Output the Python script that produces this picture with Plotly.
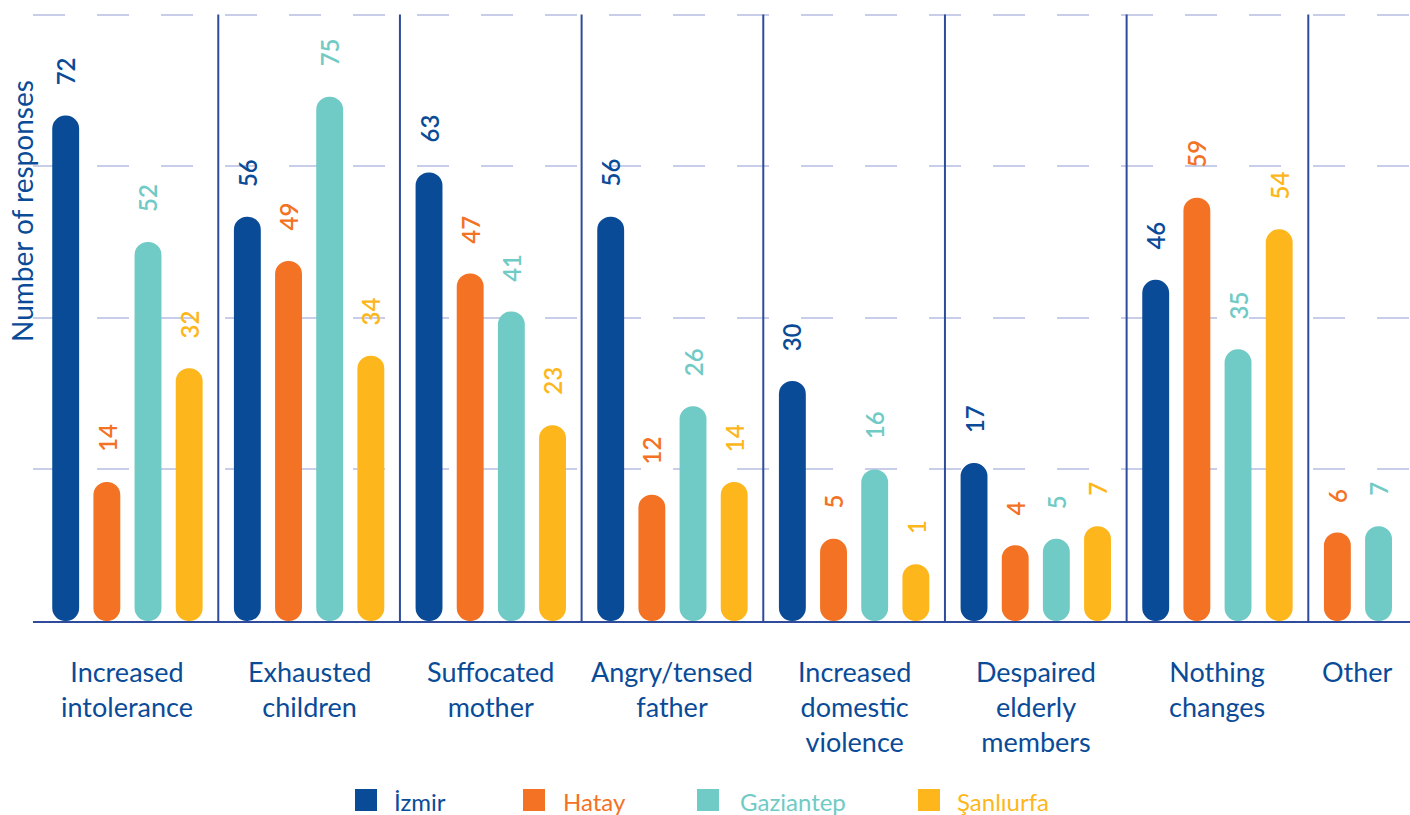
import plotly.graph_objects as go

# ---- data -------------------------------------------------------------
categories = [
    "Increased<br>intolerance",
    "Exhausted<br>children",
    "Suffocated<br>mother",
    "Angry/tensed<br>father",
    "Increased<br>domestic<br>violence",
    "Despaired<br>elderly<br>members",
    "Nothing<br>changes",
    "Other",
]
izmir = [72, 56, 63, 56, 30, 17, 46, None]
hatay = [14, 49, 47, 12, 5, 4, 59, 6]
gaziantep = [52, 75, 41, 26, 16, 5, 35, 7]
sanliurfa = [32, 34, 23, 14, 1, 7, 54, None]
series_names = ["İzmir", "Hatay", "Gaziantep", "Şanlıurfa"]
series_values = [izmir, hatay, gaziantep, sanliurfa]
series_colors = ["#0a4b98", "#f37224", "#70cac5", "#fdb71c"]

# ---- style ------------------------------------------------------------
FONT = "Lato"
TEXT_BLUE = "#0a4b98"
RULE_BLUE = "#2e4b9c"
GRID = "#c8cdea"
Y_FLOOR = -8          # pills start at the axis floor
Y_TOP = 90.3
GRID_VALS = [16, 40, 64, 88]
SLOT_STEP = 0.2266    # distance between bar slots (category units)
BAR_W = 0.148         # bar width (category units)
CAT_PX = 181.67       # pixel width of one category band
FIRST_BAND_PX = 36.6  # left edge of the first category band

W, H = 1410, 815
M_L, M_R, M_T, M_B = 33, 0, 0, 194
PLOT_W = W - M_L - M_R
PLOT_H = H - M_T - M_B
X_LEFT = -0.5 - (FIRST_BAND_PX - M_L) / CAT_PX
X_RIGHT = X_LEFT + PLOT_W / CAT_PX


def px_x(px):
    return (px - M_L) / PLOT_W


def px_y(py):
    return (H - M_B - py) / PLOT_H


slot_centers = [(-1.5 + i) * SLOT_STEP for i in range(4)]

# slot assignment: bars present in a category are packed from the left slot
slot_of = {}
group_center = []
for c in range(len(categories)):
    present = [s for s in range(4) if series_values[s][c] is not None]
    for j, s in enumerate(present):
        slot_of[(s, c)] = j
    used = [slot_centers[j] for j in range(len(present))]
    group_center.append(sum(used) / len(used))

fig = go.Figure()
annotations = []

for s, (name, vals, col) in enumerate(zip(series_names, series_values, series_colors)):
    xs, offs, lens = [], [], []
    for c, v in enumerate(vals):
        if v is None:
            continue
        j = slot_of[(s, c)]
        xs.append(categories[c])
        offs.append(slot_centers[j] - BAR_W / 2)
        lens.append(v - Y_FLOOR)
        # value label above the pill
        annotations.append(dict(
            x=c + slot_centers[j], y=v, xref="x", yref="y",
            text=str(v), textangle=-90, showarrow=False,
            xanchor="center", yanchor="bottom", yshift=28,
            font=dict(family=FONT, size=24, color=col, weight=600),
        ))
    # with a base set, every corner is rounded -> pill shaped bars
    fig.add_trace(go.Bar(
        name=name, x=xs, y=lens, base=Y_FLOOR, offset=offs, width=BAR_W,
        marker=dict(color=col, cornerradius="50%", line=dict(width=0)),
        showlegend=False, hoverinfo="skip",
    ))

# category labels under each group
for c, label in enumerate(categories):
    annotations.append(dict(
        x=c + group_center[c], y=0, xref="x", yref="paper",
        text=label, showarrow=False, xanchor="center", yanchor="top",
        yshift=-32, align="center",
        font=dict(family=FONT, size=27, color=TEXT_BLUE),
    ))

# y-axis title
annotations.append(dict(
    x=px_x(22), y=px_y(211), xref="paper", yref="paper",
    text="Number of responses", textangle=-90, showarrow=False,
    xanchor="center", yanchor="middle",
    font=dict(family=FONT, size=28, color=TEXT_BLUE),
))

# group separators
shapes = []
for k in range(len(categories) - 1):
    shapes.append(dict(
        type="line", xref="x", yref="y", x0=k + 0.5, x1=k + 0.5,
        y0=Y_FLOOR, y1=GRID_VALS[-1],
        line=dict(color=RULE_BLUE, width=2),
    ))

# colour key row
key_square_left = [355, 523, 697, 918]
key_text_left = [392, 561, 738, 955]
KEY_TOP, KEY_BOTTOM, KEY_MID = 789, 811, 801
for name, col, sq, tx in zip(series_names, series_colors, key_square_left, key_text_left):
    shapes.append(dict(
        type="rect", xref="paper", yref="paper",
        x0=px_x(sq), x1=px_x(sq + 22), y0=px_y(KEY_BOTTOM), y1=px_y(KEY_TOP),
        fillcolor=col, line=dict(width=0),
    ))
    annotations.append(dict(
        x=px_x(tx), y=px_y(KEY_MID), xref="paper", yref="paper",
        text=name, showarrow=False, xanchor="left", yanchor="middle",
        font=dict(family=FONT, size=24, color=col),
    ))

fig.update_layout(
    width=W, height=H,
    margin=dict(l=M_L, r=M_R, t=M_T, b=M_B, pad=0),
    paper_bgcolor="white", plot_bgcolor="white",
    barmode="overlay",
    showlegend=False,
    font=dict(family=FONT, color=TEXT_BLUE),
    xaxis=dict(
        type="category", categoryorder="array", categoryarray=categories,
        range=[X_LEFT, X_RIGHT],
        showticklabels=False, ticks="", showgrid=False, zeroline=False,
        showline=True, linecolor=RULE_BLUE, linewidth=2,
    ),
    yaxis=dict(
        range=[Y_FLOOR, Y_TOP], tickvals=GRID_VALS, showticklabels=False,
        ticks="", showgrid=True, gridcolor=GRID, gridwidth=1.5,
        griddash="32px,32px", zeroline=False, showline=False,
    ),
    annotations=annotations,
    shapes=shapes,
)

fig.write_html("out.html")
